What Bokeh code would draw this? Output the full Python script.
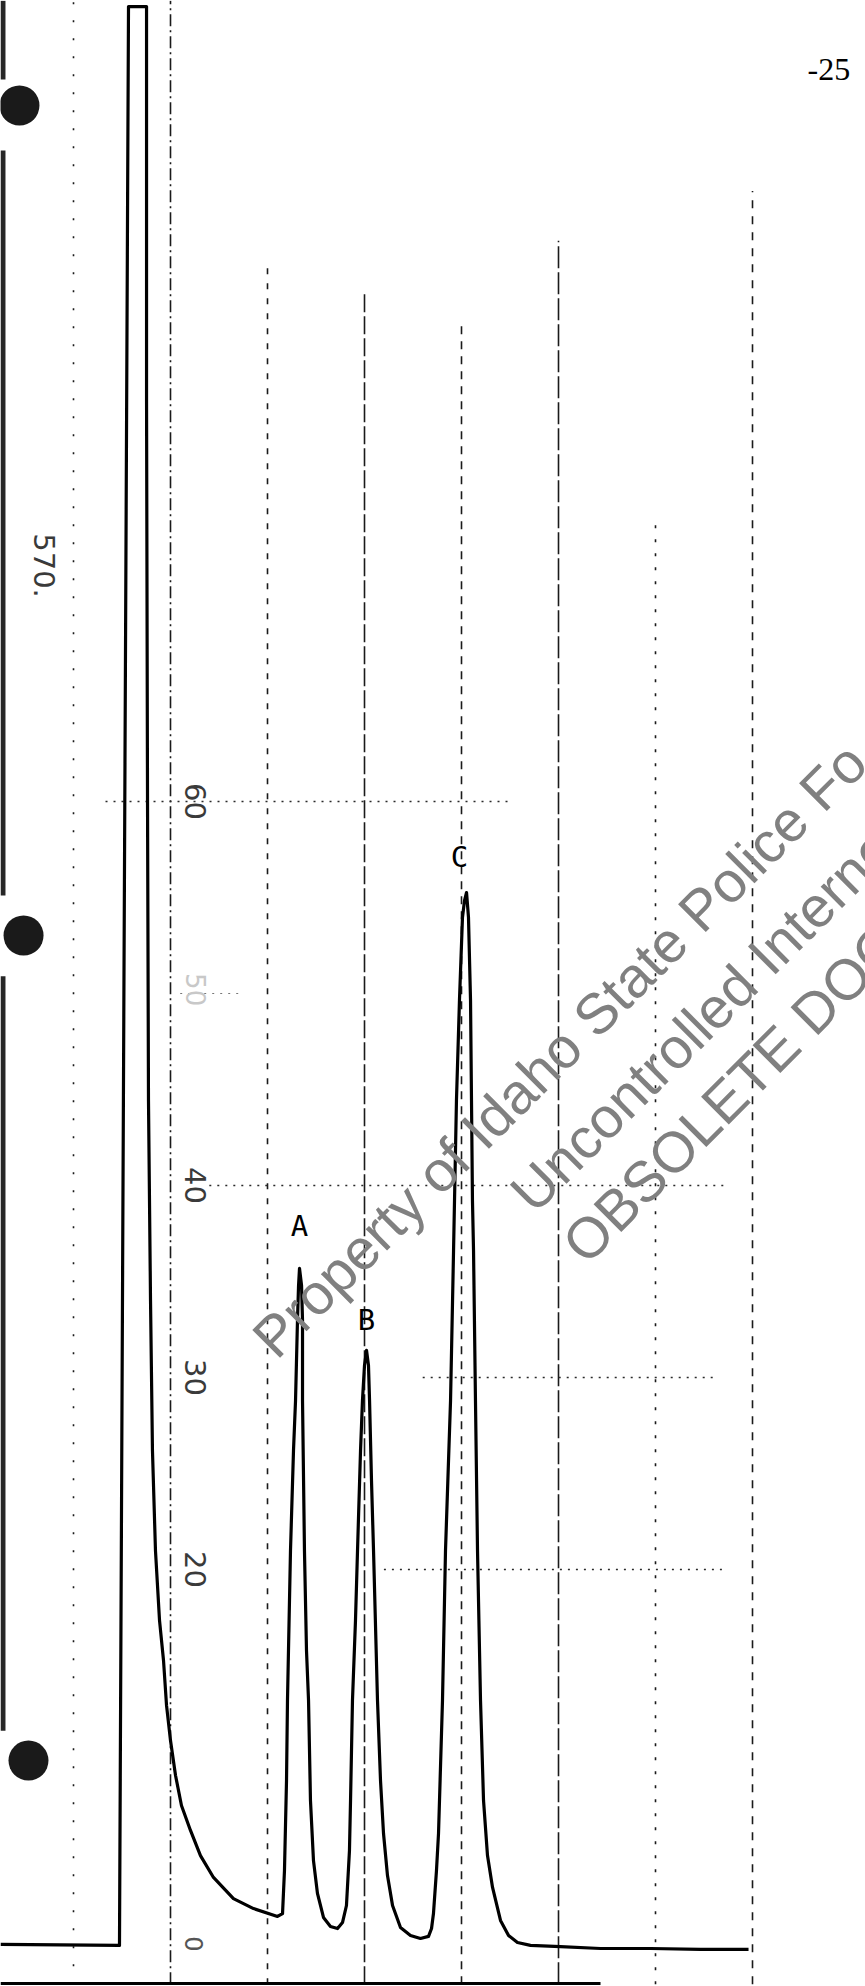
import math
from bokeh.plotting import figure
from bokeh.models import Range1d
from bokeh.core.properties import value
from bokeh.embed import file_html
from bokeh.resources import INLINE

# ---------------- data (chart divisions, % of full scale) ----------------
# solvent: baseline, injection (pen off scale), solvent tail
solvent_t = [-1.753, -0.526, -0.433, -0.247, -0.247, -0.237, -0.227, -0.206,
             -0.186, -0.155, -0.113, -0.072, -0.041, 0.000, 0.052, 0.113,
             0.206, 0.309, 0.443, 0.649, 0.856, 1.103]
solvent_v = [0.47, 0.42, 101.40, 101.40, 80.89, 60.05, 44.43, 34.01,
             26.20, 20.99, 17.34, 15.26, 12.92, 11.09, 9.27, 7.71,
             6.41, 5.10, 3.96, 2.86, 2.34, 1.93]

peakA_t = [1.155, 1.175, 1.196, 1.206, 1.237, 1.268, 1.289, 1.309, 1.320,
           1.330, 1.351, 1.361, 1.361, 1.381, 1.402, 1.423, 1.443, 1.474,
           1.515, 1.577, 1.649, 1.722]
peakA_v = [2.08, 4.32, 9.01, 13.18, 20.99, 26.20, 28.80, 32.97, 34.79,
           35.68, 34.79, 32.97, 28.80, 20.99, 15.78, 13.18, 7.97, 4.84,
           3.13, 1.88, 1.41, 1.30]

peakB_t = [1.773, 1.814, 1.845, 1.856, 1.876, 1.907, 1.928, 1.959, 1.979,
           2.000, 2.021, 2.041, 2.052, 2.072, 2.093, 2.134, 2.165, 2.196,
           2.237, 2.289, 2.371, 2.474, 2.577, 2.660]
peakB_v = [1.61, 2.50, 5.36, 7.97, 13.18, 17.34, 20.99, 26.20, 28.80,
           30.63, 31.41, 30.63, 28.80, 24.64, 20.99, 13.18, 9.01, 6.25,
           4.06, 2.50, 1.35, 0.94, 0.78, 0.89]

peakC_t = [2.691, 2.711, 2.742, 2.763, 2.804, 2.835, 2.887, 2.918, 2.948,
           2.979, 3.010, 3.031, 3.052, 3.072, 3.093, 3.103, 3.113, 3.124,
           3.144, 3.165, 3.196, 3.227, 3.268, 3.320, 3.402, 3.485, 3.577,
           3.711, 4.021, 4.433, 4.948, 5.464, 5.959]
peakC_v = [1.30, 2.08, 4.32, 6.25, 13.18, 20.99, 28.80, 36.61, 44.43,
           49.64, 53.96, 54.84, 55.26, 53.96, 49.64, 44.43, 39.22, 36.61,
           28.80, 20.99, 13.18, 7.97, 5.10, 3.44, 1.72, 0.94, 0.57,
           0.42, 0.36, 0.26, 0.26, 0.21, 0.21]

peak_names = ["A", "B", "C"]
peak_label_t = [1.330, 2.021, 2.979]
peak_label_v = [37.9, 33.0, 57.1]

scale_labels = ["60", "40", "30", "20"]
scale_values = [60, 40, 30, 20]
scale_label_t = 0.258

# chart-paper grid
grid_t = [-1, 0, 1, 2, 3, 4, 5, 6]
grid_top = [101.7, 101.7, 87.9, 86.6, 84.9, 89.2, 74.7, 91.8]
grid_dash = ["2 16", "12 4 2 4", "6 9", "18 4", "8 7", "22 4", "3 11", "8 8"]
hgrid_v = [60, 40, 30, 20]
hgrid_start = [-0.67, 0.4, 2.6, 2.2]
hgrid_end = [3.5, 5.7, 5.6, 5.7]

# punched holes and torn paper edge of the scan
holes_t = [-1.557, -1.515, -1.464]
holes_v = [96.25, 53.02, 10.05]
edge_t = -1.727
edge_top = [101.7, 93.9, 50.9]
edge_bottom = [97.6, 55.1, 11.6]

watermark = ["Property of Idaho State Police Fo", "Uncontrolled Interne", "OBSOLETE DOC"]
watermark_t = [0.95, 3.608, 4.144]
watermark_v = [31.6, 39.17, 36.51]

# ---------------- figure ----------------
p = figure(width=865, height=1986, output_backend="svg", toolbar_location=None,
           x_range=Range1d(-1.7526, 7.1649), y_range=Range1d(-1.719, 101.719),
           x_axis_type=None, y_axis_type=None, min_border=0)
p.outline_line_color = None
p.grid.visible = False
p.background_fill_color = "white"
p.border_fill_color = "white"

# vertical grid lines
for t, top, dash in zip(grid_t, grid_top, grid_dash):
    p.line([t, t], [-1.6, top], line_color="#1a1a1a", line_width=1.6, line_dash=dash)

# horizontal grid lines
for v, s, e in zip(hgrid_v, hgrid_start, hgrid_end):
    p.line([s, e], [v, v], line_color="#2a2a2a", line_width=1.4, line_dash="2 6")
p.line([0.1, 0.7], [50, 50], line_color="#777777", line_width=1.2, line_dash="2 6")

# bottom edge of the chart paper
p.line([-1.753, 4.433], [-1.56, -1.56], line_color="black", line_width=3)

# left edge of the scan
for top, bot in zip(edge_top, edge_bottom):
    p.line([edge_t, edge_t], [bot, top], line_color="#262626", line_width=5)

# trace
trace_t = solvent_t + peakA_t + peakB_t + peakC_t
trace_v = solvent_v + peakA_v + peakB_v + peakC_v
p.line(trace_t, trace_v, line_color="black", line_width=3.2, line_join="round")

# punched holes
p.scatter(holes_t, holes_v, size=40, marker="circle", fill_color="#1a1a1a", line_color=None)

# peak labels
p.text(peak_label_t, peak_label_v, text=peak_names, text_font=value("DejaVu Sans Mono"),
       text_font_size=value("29px"), text_align="center", text_baseline="middle",
       text_color="black")

# scale labels (rotated)
p.text([scale_label_t] * len(scale_values), scale_values, text=scale_labels,
       angle=-math.pi / 2, text_font=value("DejaVu Sans"), text_font_size=value("29px"),
       text_align="center", text_baseline="middle", text_color="#3a3a3a")
p.text([scale_label_t], [50.2], text=["50"], angle=-math.pi / 2,
       text_font=value("DejaVu Sans"), text_font_size=value("26px"),
       text_align="center", text_baseline="middle", text_color="#c8c8c8")
p.text([scale_label_t - 0.02], [0.5], text=["0"], angle=-math.pi / 2,
       text_font=value("DejaVu Sans"), text_font_size=value("24px"),
       text_align="center", text_baseline="middle", text_color="#555555")
p.text([-1.299], [72.29], text=["570."], angle=-math.pi / 2,
       text_font=value("DejaVu Sans"), text_font_size=value("29px"),
       text_align="center", text_baseline="middle", text_color="#3a3a3a")

# page number
p.text([6.567], [98.13], text=["-25"], text_font=value("Liberation Serif"),
       text_font_size=value("32px"), text_align="left", text_baseline="middle",
       text_color="black")

# watermark
p.text(watermark_t, watermark_v, text=watermark, angle=math.pi / 4,
       text_font=value("Liberation Sans"), text_font_size=value("57px"),
       text_align="left", text_baseline="alphabetic", text_color="#808080")

open("out.html", "w").write(file_html(p, INLINE))
